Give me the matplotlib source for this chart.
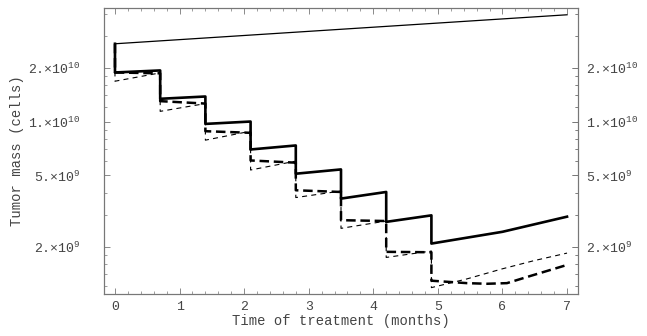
import matplotlib
matplotlib.use("Agg")
import matplotlib.pyplot as plt
from matplotlib.ticker import FixedLocator, FixedFormatter

# --- data (months, cells) ---
dose_times = [0.0, 0.7, 1.4, 2.1, 2.8, 3.5, 4.2, 4.9]

untreated_t = [0.0, 7.0]
untreated_v = [2.72e10, 3.95e10]

# thick solid: value just after each dose / just before the next dose
solid_start = [1.88e10, 1.34e10, 9.70e9, 6.98e9, 5.11e9, 3.71e9, 2.75e9]
solid_end = [1.93e10, 1.38e10, 1.00e10, 7.35e9, 5.40e9, 4.04e9, 2.99e9]
solid_tail_t = [4.9, 6.0, 7.0]
solid_tail_v = [2.08e9, 2.42e9, 2.94e9]

# thick dashed
thick_start = [1.88e10, 1.30e10, 8.83e9, 6.06e9, 4.13e9, 2.81e9, 1.87e9]
thick_end = [1.86e10, 1.26e10, 8.65e9, 5.89e9, 4.04e9, 2.78e9, 1.86e9]
thick_tail_t = [4.9, 5.45, 5.76, 6.07, 6.43, 7.0]
thick_tail_v = [1.29e9, 1.25e9, 1.24e9, 1.25e9, 1.37e9, 1.58e9]

# thin dashed
thin_start = [1.68e10, 1.14e10, 7.87e9, 5.36e9, 3.76e9, 2.53e9, 1.74e9]
thin_end = [1.87e10, 1.26e10, 8.83e9, 6.01e9, 4.09e9, 2.78e9, 1.89e9]
thin_tail_t = [4.9, 5.45, 5.99, 6.49, 7.0]
thin_tail_v = [1.18e9, 1.32e9, 1.50e9, 1.67e9, 1.84e9]

y_ticks = [2e9, 5e9, 1e10, 2e10]
y_labels = ['2.×10$^{9}$', '5.×10$^{9}$', '1.×10$^{10}$', '2.×10$^{10}$']
y_minor = [1.2e9, 1.4e9, 1.6e9, 1.8e9, 3e9, 4e9, 6e9, 7e9, 8e9, 9e9,
           1.2e10, 1.4e10, 1.6e10, 1.8e10, 3e10, 4e10]


def steps(start, end, tail_t, tail_v):
    t = [0.0]
    v = [untreated_v[0]]
    for i in range(len(start)):
        t += [dose_times[i], dose_times[i + 1]]
        v += [start[i], end[i]]
    return t + tail_t, v + tail_v


plt.rcParams['font.family'] = ['Liberation Mono', 'DejaVu Sans']
plt.rcParams['mathtext.fontset'] = 'custom'
plt.rcParams['mathtext.rm'] = 'Liberation Mono'
plt.rcParams['mathtext.it'] = 'Liberation Mono'
plt.rcParams['mathtext.default'] = 'rm'

txt = '#444444'
frame = '#777777'
fig = plt.figure(figsize=(6.47, 3.36), dpi=100)
ax = fig.add_axes([104 / 647, 42 / 336, 474 / 647, 286 / 336])
ax.set_yscale('log')

ax.plot(untreated_t, untreated_v, color='black', lw=0.9)
t, v = steps(solid_start, solid_end, solid_tail_t, solid_tail_v)
ax.plot(t, v, color='black', lw=1.9)
t, v = steps(thick_start, thick_end, thick_tail_t, thick_tail_v)
ax.plot(t, v, color='black', lw=1.8, dashes=(3.8, 1.9))
t, v = steps(thin_start, thin_end, thin_tail_t, thin_tail_v)
ax.plot(t, v, color='black', lw=0.8, dashes=(4.5, 3.8))

ax.set_xlim(-0.17, 7.17)
ax.set_ylim(1.087e9, 4.31e10)

# right-hand copy of the log axis, so its labels can sit closer
ax2 = ax.twinx()
ax2.set_yscale('log')
ax2.set_ylim(ax.get_ylim())

for a in (ax, ax2):
    a.yaxis.set_major_locator(FixedLocator(y_ticks))
    a.yaxis.set_major_formatter(FixedFormatter(y_labels))
    a.yaxis.set_minor_locator(FixedLocator(y_minor))
    a.yaxis.set_minor_formatter(FixedFormatter([''] * len(y_minor)))
    for s in a.spines.values():
        s.set_color(frame)
        s.set_linewidth(0.8)

ax.xaxis.set_major_locator(FixedLocator(range(8)))
ax.xaxis.set_minor_locator(FixedLocator([i * 0.2 for i in range(36)]))

ax.tick_params(which='both', direction='in', top=True, right=True,
               labelright=False, colors=frame, labelcolor=txt,
               labelsize=9.5)
ax.tick_params(which='major', length=4, width=0.6)
ax.tick_params(which='minor', length=2, width=0.5)
ax.tick_params(axis='y', which='major', pad=17)
ax.tick_params(axis='x', which='major', pad=5)
ax2.tick_params(which='both', direction='in', colors=frame,
                labelcolor=txt, labelsize=9.5)
ax2.tick_params(which='major', length=4, width=0.6, pad=6)
ax2.tick_params(which='minor', length=2, width=0.5)

ax.set_xlabel('Time of treatment (months)', fontsize=10, color=txt, labelpad=1)
ax.set_ylabel('Tumor mass (cells)', fontsize=10, color=txt, labelpad=3)

fig.savefig('out.png', dpi=100)
